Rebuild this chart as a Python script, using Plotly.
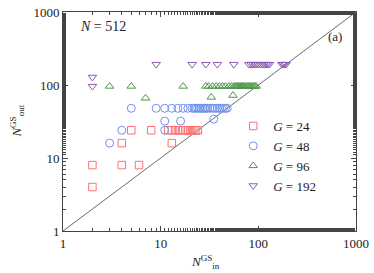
import plotly.graph_objects as go

# ---- data ----
g24_x = [2, 2, 4, 6, 4, 13, 5, 8, 12, 13, 14, 15, 16, 17, 18, 19, 20, 21, 22, 23, 24]
g24_y = [4, 8, 8, 8, 16, 16, 24, 24, 24, 24, 24, 24, 24, 24, 24, 24, 24, 24, 24, 24, 24]

g48_x = [3, 4, 11, 11, 16, 35, 5, 9, 11, 13, 15, 17, 19, 21, 22, 23, 24, 25, 26, 27, 28,
         29, 30, 32, 34, 36, 38, 40, 42, 44, 46, 48]
g48_y = [16, 24, 24, 32, 32, 34, 48, 48, 48, 48, 48, 48, 48, 48, 48, 48, 48, 48, 48, 48, 48,
         48, 48, 48, 48, 48, 48, 48, 48, 48, 48, 48]

g96_x = [3, 5, 7, 17, 33, 55, 29, 31, 34, 37, 40, 43, 46, 50, 53, 56, 58, 60, 62, 64, 66,
         68, 70, 72, 75, 78, 80, 83, 86, 89, 92, 95]
g96_y = [96, 96, 66, 96, 68, 72, 96, 96, 96, 96, 96, 96, 96, 96, 96, 96, 96, 96, 96, 96, 96,
         96, 96, 96, 96, 96, 96, 96, 96, 96, 96, 96]

g192_x = [2, 2, 9, 21, 29, 38, 56, 80, 84, 88, 92, 96, 100, 105, 110, 115, 120, 125, 130,
          174, 180, 186, 192]
g192_y = [128, 96, 192, 192, 192, 192, 192, 192, 192, 192, 192, 192, 192, 192, 192, 192, 192,
          192, 192, 192, 192, 192, 192]

series_names = ["<i>G</i> = 24", "<i>G</i> = 48", "<i>G</i> = 96", "<i>G</i> = 192"]
diag = [1, 1000]
tick_vals = [1, 10, 100, 1000]
tick_text = ["1", "10", "100", "1000"]

FONT = "Liberation Serif, Times New Roman, serif"

fig = go.Figure()
fig.add_trace(go.Scatter(x=diag, y=diag, mode="lines", line=dict(color="#444444", width=0.8),
                         showlegend=False, hoverinfo="skip"))

styles = [
    (g24_x, g24_y, "square-open", "#ff7070", 7.5),
    (g48_x, g48_y, "circle-open", "#7092ee", 8),
    (g96_x, g96_y, "triangle-up-open", "#4f964f", 7.5),
    (g192_x, g192_y, "triangle-down-open", "#8e5bb5", 7.5),
]
for (xs, ys, sym, col, sz), name in zip(styles, series_names):
    fig.add_trace(go.Scatter(x=xs, y=ys, mode="markers", name=name,
                             marker=dict(symbol=sym, color=col, size=sz,
                                         line=dict(color=col, width=1))))

axis_common = dict(
    type="log", showgrid=False, zeroline=False,
    showline=True, linecolor="#444444", linewidth=1, mirror="allticks",
    ticks="inside", ticklen=5, tickcolor="#444444",
    tickvals=tick_vals, ticktext=tick_text, ticklabeloverflow="allow",
    tickfont=dict(family=FONT, size=13, color="#222222"),
    minor=dict(ticks="inside", ticklen=3, tickcolor="#444444", showgrid=False),
)
fig.update_xaxes(range=[0, 3], **axis_common)
fig.update_yaxes(range=[0, 3], **axis_common)

fig.update_layout(
    width=374, height=273,
    margin=dict(l=63, r=13, t=5, b=42),
    paper_bgcolor="white", plot_bgcolor="white",
    font=dict(family=FONT, size=13, color="#222222"),
    legend=dict(x=0.581, y=0.548, xanchor="left", yanchor="top",
                bgcolor="rgba(0,0,0,0)", font=dict(family=FONT, size=13),
                tracegroupgap=0, itemwidth=30),
    annotations=[
        dict(text="<i>N</i> = 512", x=0.05, y=0.933, xref="paper", yref="paper",
             xanchor="left", yanchor="middle", showarrow=False,
             font=dict(family=FONT, size=14)),
        dict(text="(a)", x=0.96, y=0.887, xref="paper", yref="paper",
             xanchor="right", yanchor="middle", showarrow=False,
             font=dict(family=FONT, size=13)),
        dict(text="<i>N</i><sup>GS</sup><sub>in</sub>", x=(208 - 63) / 298, y=-0.142,
             xref="paper", yref="paper", xanchor="center", yanchor="middle",
             showarrow=False, font=dict(family=FONT, size=13)),
        dict(text="<i>N</i><sup>GS</sup><sub>out</sub>", x=-0.16, y=0.5, xref="paper",
             yref="paper", xanchor="center", yanchor="middle", showarrow=False,
             textangle=-90, font=dict(family=FONT, size=13)),
    ],
)

fig.write_html("out.html", config={"displayModeBar": False},
               post_script="document.body.style.margin='0';document.body.style.padding='0';")
